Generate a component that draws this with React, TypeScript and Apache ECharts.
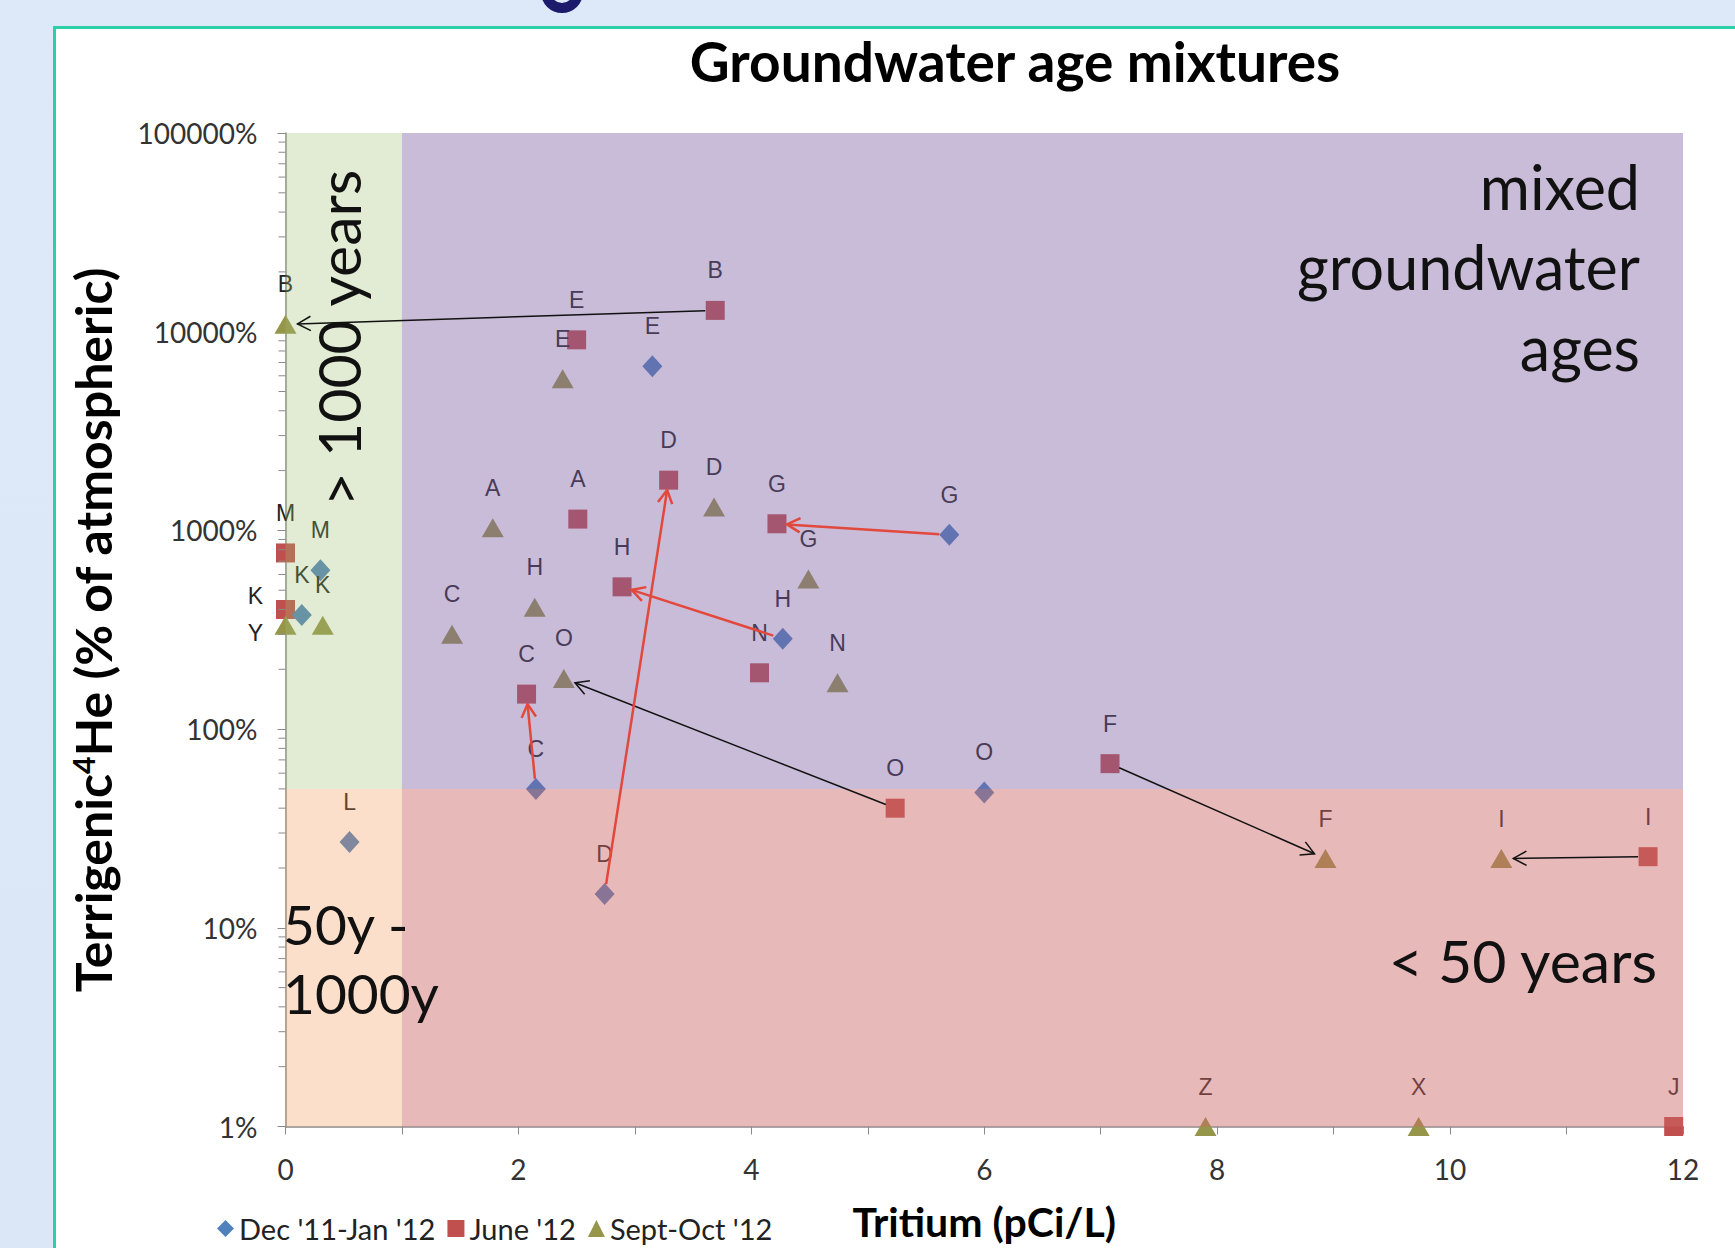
import React, { useEffect, useRef } from "react";
import * as echarts from "echarts";

// ---------- data ----------
const decLabels = ["E", "G", "M", "K", "H", "C", "O", "L", "D"];
const decX = [3.15, 5.7, 0.3, 0.14, 4.27, 2.15, 6.0, 0.55, 2.74];
const decY = [6700, 950, 630, 375, 285, 50, 48, 27, 14.8];

const junLabels = ["B", "E", "D", "A", "G", "M", "H", "K", "N", "C", "F", "O", "I", "J"];
const junX = [3.69, 2.5, 3.29, 2.51, 4.22, 0, 2.89, 0, 4.07, 2.07, 7.08, 5.235, 11.7, 11.92];
const junY = [12800, 9100, 1790, 1140, 1080, 770, 520, 400, 192, 150, 67, 40, 22.8, 1];

const sepLabels = ["B", "E", "A", "D", "G", "H", "C", "Y", "K", "O", "N", "F", "I", "Z", "X"];
const sepX = [0, 2.38, 1.78, 3.68, 4.49, 2.14, 1.43, 0, 0.32, 2.39, 4.74, 8.93, 10.44, 7.9, 9.73];
const sepY = [10900, 5800, 1030, 1310, 570, 410, 300, 333, 333, 180, 171, 22.3, 22.3, 1, 1];

const seriesNames = ["Dec '11-Jan '12", "June '12", "Sept-Oct '12"];

// arrows: [fromSeries, fromLabel, toSeries, toLabel]
const blackArrows = [
  ["jun", "B", "sep", "B"],
  ["jun", "O", "sep", "O"],
  ["jun", "F", "sep", "F"],
  ["jun", "I", "sep", "I"],
];
const redArrows = [
  ["dec", "G", "jun", "G"],
  ["dec", "H", "jun", "H"],
  ["dec", "D", "jun", "D"],
  ["dec", "C", "jun", "C"],
];

// age-zone bands (x from/to in pCi/L, y from/to in %)
const bandNames = ["> 1000 years", "mixed groundwater ages", "50y - 1000y", "< 50 years"];
const bandX0 = [0, 1, 0, 1];
const bandX1 = [1, 12, 1, 12];
const bandY0 = [50, 50, 1, 1];
const bandY1 = [100000, 100000, 50, 50];

const yTickValues = [1, 10, 100, 1000, 10000, 100000];
const minorMultipliers = [2, 3, 4, 5, 6, 7, 8, 9];

// ---------- styles ----------
const LATO = "Lato, 'Open Sans', sans-serif";
const ARIAL = "'Liberation Sans', Arial, sans-serif";
const bandColors = [
  "rgba(160,190,110,0.30)",
  "rgba(126,95,162,0.42)",
  "rgba(245,150,80,0.30)",
  "rgba(205,102,102,0.46)",
];
const seriesColors = ["#4f81bd", "#c0504d", "#96964a"];
const labelOffsets: Record<string, number[]> = {
  "jun:K": [-30, -13],
  "sep:Y": [-30, 8],
};

const sets: Record<string, { labels: string[]; x: number[]; y: number[] }> = {
  dec: { labels: decLabels, x: decX, y: decY },
  jun: { labels: junLabels, x: junX, y: junY },
  sep: { labels: sepLabels, x: sepX, y: sepY },
};

function pointOf(key: string, label: string) {
  const s = sets[key];
  const i = s.labels.indexOf(label);
  return [s.x[i], s.y[i]];
}

function scatterData(key: string) {
  const s = sets[key];
  return s.labels.map((lab, i) => {
    const item: any = { name: lab, value: [s.x[i], s.y[i]] };
    const off = labelOffsets[key + ":" + lab];
    if (off) item.label = { offset: off };
    return item;
  });
}

function arrowSeries(list: string[][], color: string, width: number, startGap: number, endGap: number) {
  return {
    type: "custom",
    z: 6,
    silent: true,
    clip: false,
    encode: { x: [0, 2], y: [1, 3] },
    data: list.map((a) => [...pointOf(a[0], a[1]), ...pointOf(a[2], a[3])]),
    renderItem: (params: any, api: any) => {
      const a = api.coord([api.value(0), api.value(1)]);
      const b = api.coord([api.value(2), api.value(3)]);
      const dx = b[0] - a[0];
      const dy = b[1] - a[1];
      const len = Math.hypot(dx, dy) || 1;
      const ux = dx / len;
      const uy = dy / len;
      const s = [a[0] + ux * startGap, a[1] + uy * startGap];
      const e = [b[0] - ux * endGap, b[1] - uy * endGap];
      const ang = Math.atan2(dy, dx);
      const L = 15;
      const h1 = [e[0] - L * Math.cos(ang - 0.5), e[1] - L * Math.sin(ang - 0.5)];
      const h2 = [e[0] - L * Math.cos(ang + 0.5), e[1] - L * Math.sin(ang + 0.5)];
      return {
        type: "group",
        children: [
          { type: "line", shape: { x1: s[0], y1: s[1], x2: e[0], y2: e[1] }, style: { stroke: color, lineWidth: width } },
          { type: "polyline", shape: { points: [h1, e, h2] }, style: { stroke: color, lineWidth: width, fill: "none" } },
        ],
      };
    },
  };
}

export default function App() {
  const ref = useRef<HTMLDivElement>(null);

  useEffect(() => {
    if (!ref.current) return;
    const chart = echarts.init(ref.current, null, { renderer: "svg" });

    const minorTicks: number[][] = [];
    yTickValues.slice(0, -1).forEach((d) => minorMultipliers.forEach((m) => minorTicks.push([0, d * m])));

    const scatterBase = (key: string, idx: number, symbol: string, size: any) => ({
      name: seriesNames[idx],
      type: "scatter",
      z: 2,
      symbol,
      symbolSize: size,
      itemStyle: { color: seriesColors[idx], opacity: 1 },
      label: {
        show: true,
        formatter: "{b}",
        position: "inside",
        offset: [0, -40],
        color: "#222",
        fontFamily: ARIAL,
        fontSize: 23,
      },
      data: scatterData(key),
    });

    chart.setOption({
      animation: false,
      backgroundColor: "transparent",
      textStyle: { fontFamily: LATO },
      grid: { left: 285.5, right: 52, top: 133, bottom: 121.5, outerBoundsMode: "none", containLabel: false },
      legend: {
        left: 212,
        top: 1209,
        itemWidth: 17,
        itemHeight: 17,
        itemGap: 12,
        textStyle: { fontFamily: LATO, fontSize: 29, color: "#222" },
        data: [
          { name: seriesNames[0], icon: "diamond" },
          { name: seriesNames[1], icon: "rect" },
          { name: seriesNames[2], icon: "triangle" },
        ],
      },
      xAxis: {
        type: "value",
        min: 0,
        max: 12,
        interval: 1,
        name: "Tritium (pCi/L)",
        nameLocation: "middle",
        nameGap: 74,
        nameTextStyle: { fontFamily: LATO, fontSize: 41, lineHeight: 42, fontWeight: "bold", color: "#000" },
        axisLine: { lineStyle: { color: "#8a8a8a", width: 1.5 } },
        axisTick: { length: 8, lineStyle: { color: "#8a8a8a" } },
        axisLabel: {
          margin: 28,
          fontSize: 28,
          color: "#333",
          fontFamily: LATO,
          formatter: (v: number) => (v % 2 === 0 ? String(v) : ""),
        },
        splitLine: { show: false },
      },
      yAxis: {
        type: "log",
        logBase: 10,
        min: 1,
        max: 100000,
        splitNumber: 5,
        name: "{a|Terrigenic}{s|4}{a|He (% of atmospheric)}",
        nameLocation: "middle",
        nameGap: 168,
        nameTextStyle: {
          rich: {
            a: { fontFamily: LATO, fontSize: 50, fontWeight: "bold", color: "#000" },
            s: { fontFamily: LATO, fontSize: 30, fontWeight: "bold", color: "#000", verticalAlign: "top" },
          },
        },
        axisLine: { show: true, lineStyle: { color: "#8a8a8a", width: 1.5 } },
        axisTick: { show: true, length: 8, lineStyle: { color: "#8a8a8a" } },
        axisLabel: {
          margin: 28,
          fontSize: 28,
          color: "#333",
          fontFamily: LATO,
          formatter: (v: number) => Math.round(v) + "%",
        },
        splitLine: { show: false },
      },
      graphic: [
        {
          type: "text",
          z: 100,
          style: {
            text: "Groundwater age mixtures",
            x: 1015,
            y: 61,
            textAlign: "center",
            align: "center",
            textVerticalAlign: "middle",
            verticalAlign: "middle",
            font: `bold 55px ${LATO}`,
            fill: "#000",
          },
        },
        {
          type: "text",
          z: 100,
          style: {
            text: "mixed\ngroundwater\nages",
            x: 1640,
            y: 146,
            textAlign: "right",
            align: "right",
            textVerticalAlign: "top",
            verticalAlign: "top",
            lineHeight: 80.5,
            font: `61px ${LATO}`,
            fill: "#111",
          },
        },
        {
          type: "text",
          z: 100,
          x: 338,
          y: 338,
          rotation: Math.PI / 2,
          style: {
            text: bandNames[0],
            x: 0,
            y: 0,
            textAlign: "center",
            align: "center",
            textVerticalAlign: "middle",
            verticalAlign: "middle",
            font: `59px ${LATO}`,
            fill: "#111",
          },
        },
        {
          type: "text",
          z: 100,
          style: {
            text: "50y -\n1000y",
            x: 283,
            y: 889,
            textAlign: "left",
            align: "left",
            textVerticalAlign: "top",
            verticalAlign: "top",
            lineHeight: 69,
            font: `55px ${LATO}`,
            fill: "#111",
          },
        },
        {
          type: "text",
          z: 100,
          style: {
            text: bandNames[3],
            x: 1657,
            y: 960,
            textAlign: "right",
            align: "right",
            textVerticalAlign: "middle",
            verticalAlign: "middle",
            font: `59px ${LATO}`,
            fill: "#111",
          },
        },
      ],
      series: [
        scatterBase("jun", 1, "rect", 19),
        scatterBase("dec", 0, "diamond", [20, 22]),
        scatterBase("sep", 2, "triangle", [22, 19]),
        {
          type: "custom",
          z: 4,
          silent: true,
          encode: { x: [0, 1], y: [2, 3] },
          data: bandNames.map((_, i) => [bandX0[i], bandX1[i], bandY0[i], bandY1[i], i]),
          renderItem: (params: any, api: any) => {
            const p0 = api.coord([api.value(0), api.value(3)]);
            const p1 = api.coord([api.value(1), api.value(2)]);
            return {
              type: "rect",
              shape: { x: p0[0], y: p0[1], width: p1[0] - p0[0], height: p1[1] - p0[1] },
              style: { fill: bandColors[api.value(4)] },
            };
          },
        },
        {
          type: "custom",
          z: 5,
          silent: true,
          clip: false,
          encode: { x: 0, y: 1 },
          data: minorTicks,
          renderItem: (params: any, api: any) => {
            const p = api.coord([api.value(0), api.value(1)]);
            return {
              type: "line",
              shape: { x1: p[0] - 7, y1: p[1], x2: p[0], y2: p[1] },
              style: { stroke: "#8a8a8a", lineWidth: 1 },
            };
          },
        },
        arrowSeries(blackArrows, "#111", 1.5, 10, 12),
        arrowSeries(redArrows, "#e2483c", 2.5, 10, 10),
      ],
    });

    return () => chart.dispose();
  }, []);

  return (
    <div
      style={{
        position: "absolute",
        left: 0,
        top: 0,
        width: 1735,
        height: 1248,
        overflow: "hidden",
        background: "linear-gradient(180deg, #dde8f8 0%, #dbe6f6 100%)",
      }}
    >
      {/* visible lower loop of a cut-off slide-title glyph */}
      <div
        style={{
          position: "absolute",
          left: 541,
          top: -28,
          width: 42,
          height: 41,
          border: "10px solid #1c1a6a",
          borderRadius: "50%",
          boxSizing: "border-box",
        }}
      />
      <div
        style={{
          position: "absolute",
          left: 53,
          top: 26,
          width: 1720,
          height: 1260,
          background: "#ffffff",
          border: "3px solid #2ecfa8",
          boxSizing: "border-box",
        }}
      />
      <div ref={ref} style={{ position: "absolute", left: 0, top: 0, width: 1735, height: 1248 }} />
    </div>
  );
}
